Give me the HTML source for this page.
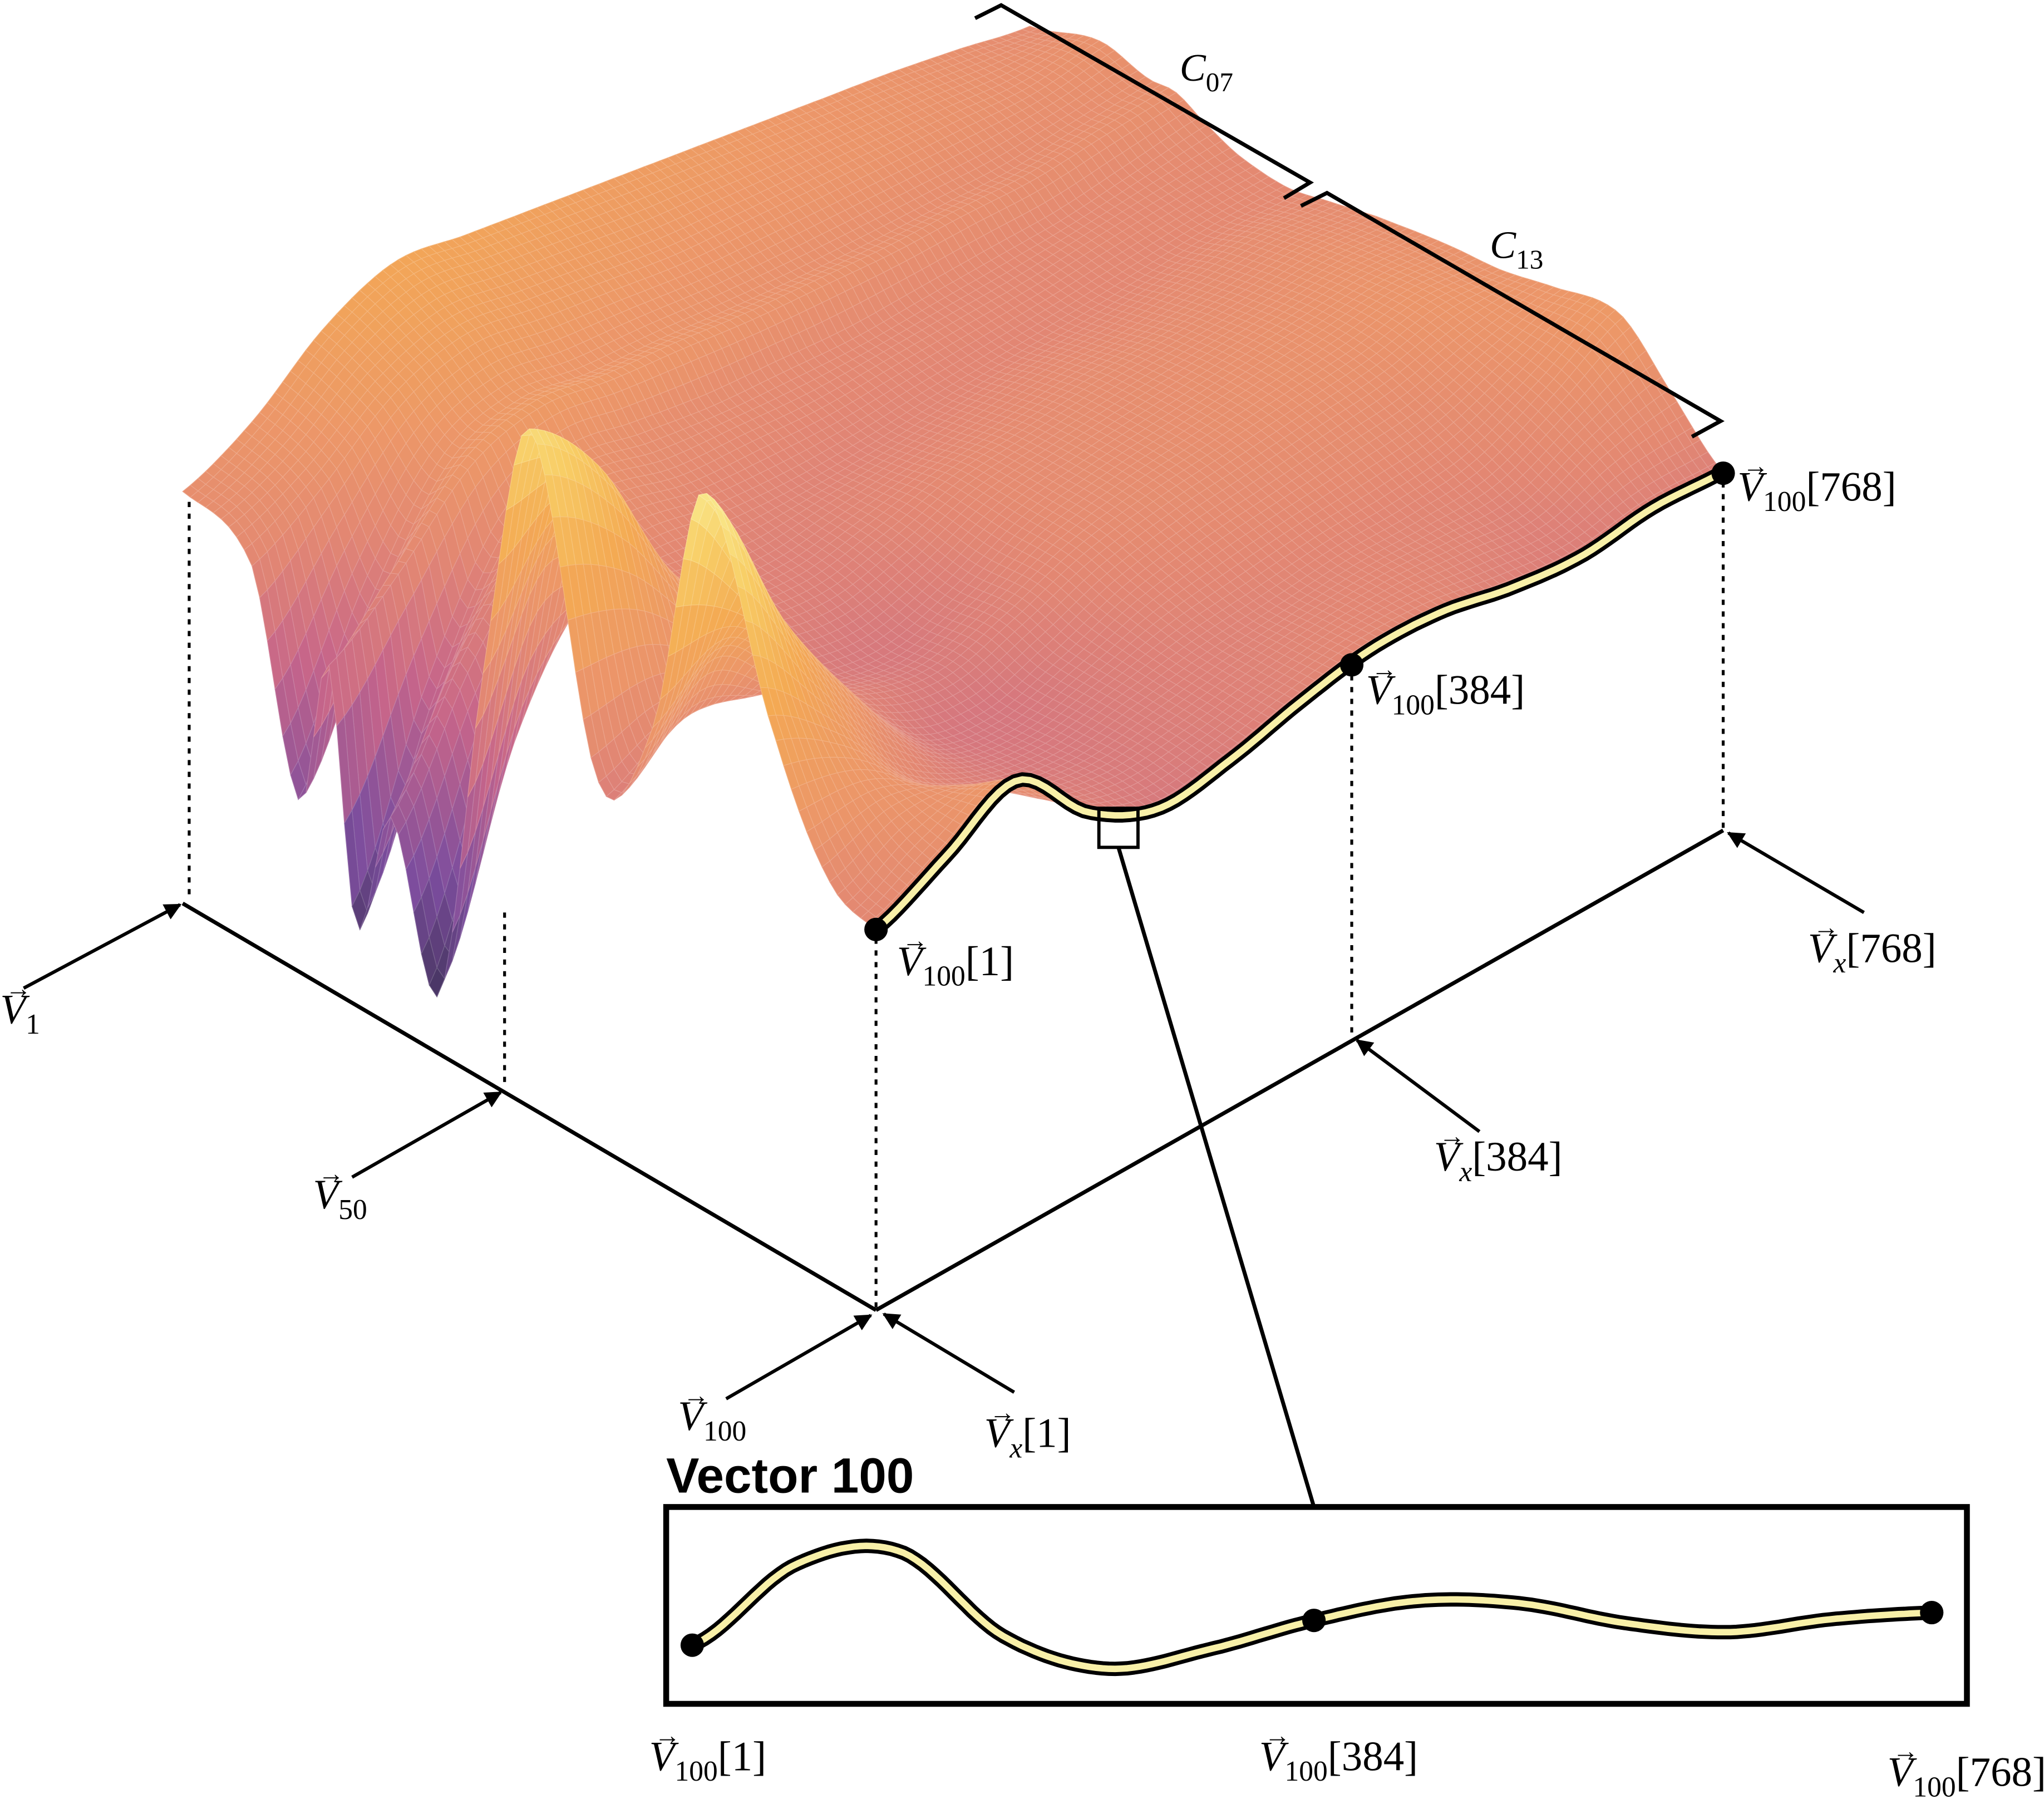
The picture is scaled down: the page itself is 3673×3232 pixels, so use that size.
<!DOCTYPE html>
<html><head><meta charset="utf-8"><style>
html,body{margin:0;padding:0;background:#fff}
svg{display:block}
text{font-family:"Liberation Serif",serif}
</style></head><body>
<svg id="fig" xmlns="http://www.w3.org/2000/svg" width="3673" height="3232" viewBox="0 0 1568 1380">
<defs>
<marker id="ah" viewBox="0 0 10 10" refX="9" refY="5" markerWidth="5" markerHeight="5" orient="auto"><path d="M0,0 L10,5 L0,10 z" fill="#000"/></marker>
</defs>
<g id="surface"></g>
<g id="overlay"></g>
</svg>
<script>
// row positions (vector index fraction) and column positions (dimension fraction)
const rowPos=[0,.1,.17,.21,.25,.3,.37,.43,.5,.6,.68,.75,.85,.93,1];
const colPos=[0,1/12,2/12,3/12,4/12,5/12,6/12,7/12,8/12,9/12,10/12,11/12,1];
const heights=[
[316,340,380,400,390,380,370,360,350,340,330,318,305],
[290,320,360,375,365,355,345,340,335,330,325,320,325],
[130,250,330,350,340,335,328,322,318,315,312,315,318],
[250,290,340,355,345,338,330,325,320,318,315,318,320],
[60,200,300,330,320,310,305,300,300,300,300,305,310],
[160,250,310,320,305,300,295,295,295,295,298,300,300],
[45,200,290,300,290,285,285,288,290,292,295,298,297],
[300,380,330,290,280,285,290,295,300,300,305,310,305],
[520,460,350,290,275,285,300,305,310,312,315,320,315],
[280,300,290,270,260,275,300,310,315,320,325,330,325],
[350,380,320,280,265,280,300,310,315,320,325,335,330],
[550,430,340,270,255,270,290,300,305,310,315,330,340],
[400,360,300,270,260,270,280,285,290,290,295,320,350],
[310,330,320,280,265,270,280,288,290,285,280,300,310],
[292,318,345,290,262,268,282,292,290,278,272,278,275]];
const vector100=[38,100,110,45,20,35,57,72,70,55,48,58,63];

const NS="http://www.w3.org/2000/svg";
function mk(tag,attrs,parent){const e=document.createElementNS(NS,tag);for(const k in attrs)e.setAttribute(k,attrs[k]);parent.appendChild(e);return e;}
function proj(s,t,h){return [140+532*s+650*t, 693+312*s-368*t-h];}
function cr(p0,p1,p2,p3,u){return 0.5*((2*p1)+(-p0+p2)*u+(2*p0-5*p1+4*p2-p3)*u*u+(-p0+3*p1-3*p2+p3)*u*u*u);}
function sampleArr(arr,pos,x){let k=0;while(k<pos.length-2&&x>pos[k+1])k++;const u=(x-pos[k])/(pos[k+1]-pos[k]);
 const a=arr[Math.max(k-1,0)],b=arr[k],c=arr[k+1],d=arr[Math.min(k+2,arr.length-1)];return cr(a,b,c,d,u);}
function H(s,t){const colVals=heights.map(r=>sampleArr(r,colPos,t));return sampleArr(colVals,rowPos,s);}
const stops=[[0,[42,24,72]],[.15,[106,53,144]],[.35,[190,80,122]],[.5,[222,118,96]],[.6,[233,136,84]],[.75,[242,158,60]],[.9,[247,198,80]],[1,[248,226,120]]];
function cmapRGB(h){let f=Math.max(0,Math.min(1,(h-40)/500));for(let k=0;k<stops.length-1;k++){if(f<=stops[k+1][0]){const u=(f-stops[k][0])/(stops[k+1][0]-stops[k][0]);const a=stops[k][1],b=stops[k+1][1];return a.map((v,i)=>Math.round(v+(b[i]-v)*u));}}return [248,226,120];}
function rgb(c,w){return `rgb(${c.map(v=>Math.round(v+(255-v)*w)).join(',')})`;}

const surf=document.getElementById('surface');
const NR=90,NC=110;
const grid=[];
for(let i=0;i<=NR;i++){const row=[];for(let j=0;j<=NC;j++){row.push(H(i/NR,j/NC));}grid.push(row);}
for(let i=0;i<NR;i++){
 for(let j=NC-1;j>=0;j--){
  const s0=i/NR,s1=(i+1)/NR,t0=j/NC,t1=(j+1)/NC;
  const p=[proj(s0,t0,grid[i][j]),proj(s0,t1,grid[i][j+1]),proj(s1,t1,grid[i+1][j+1]),proj(s1,t0,grid[i+1][j])];
  const h=(grid[i][j]+grid[i][j+1]+grid[i+1][j]+grid[i+1][j+1])/4;
  const c=cmapRGB(h);
  const q=mk('polygon',{points:p.map(v=>v[0].toFixed(1)+','+v[1].toFixed(1)).join(' '),fill:rgb(c,0.12),stroke:rgb(c,0.3),'stroke-width':0.5},surf);
  
  
 }
}
// front-edge (vector 100) curve on surface
const ov=document.getElementById('overlay');
let fp=[];for(let j=0;j<=NC;j++){const v=proj(1,j/NC,grid[NR][j]);fp.push(v[0].toFixed(1)+','+v[1].toFixed(1));}
let e=mk('polyline',{points:fp.join(' '),fill:'none',stroke:'#000','stroke-width':11,'stroke-linejoin':'round'},ov);

e=mk('polyline',{points:fp.join(' '),fill:'none',stroke:'#f8f0a8','stroke-width':5,'stroke-linejoin':'round'},ov);


function line(x1,y1,x2,y2,name,extra){const a={x1,y1,x2,y2,stroke:'#000','stroke-width':3};Object.assign(a,extra||{});const l=mk('line',a,ov);return l;}
line(140,693,672,1005,'vector-axis');
line(672,1005,1322,637,'dimension-axis');
const drops=[[145,385,145,690],[387,700,387,832],[672,720,672,1003],[1037,518,1037,795],[1322,370,1322,635],[531,1270,531,1302],[1017,1250,1017,1302],[1482,1245,1482,1302]];
drops.forEach(d=>line(d[0],d[1],d[2],d[3],'dotted-drop-line',{'stroke-width':2.2,'stroke-dasharray':'4,5'}));
const arrows=[[18,758,138,694],[270,903,384,838],[557,1073,668,1009],[778,1068,678,1008],[1135,868,1041,798],[1430,700,1326,639]];
arrows.forEach(a=>line(a[0],a[1],a[2],a[3],'arrow',{'stroke-width':2.6,'marker-end':'url(#ah)'}));
let b=mk('polyline',{points:'748,14 768,4 1005,140 985,152',fill:'none',stroke:'#000','stroke-width':3},ov);

b=mk('polyline',{points:'998,158 1018,148 1320,323 1298,335',fill:'none',stroke:'#000','stroke-width':3},ov);

let r=mk('rect',{x:843,y:620,width:30,height:30,fill:'none',stroke:'#000','stroke-width':2.5},ov);

line(858,650,1008,1156,'zoom-connector');
[[672,713],[1037,510],[1322,363]].forEach(p=>{const c=mk('circle',{cx:p[0],cy:p[1],r:9,fill:'#000'},ov);});
let box=mk('rect',{x:511,y:1156,width:998,height:151,fill:'#fff',stroke:'#000','stroke-width':4.5},ov);

let tt=mk('text',{x:511,y:1145,'font-size':38,'font-weight':'bold',style:'font-family:"Liberation Sans",sans-serif'},ov);
tt.textContent='Vector 100';
let ip=[];for(let k=0;k<=200;k++){const t=k/200;const v=sampleArr(vector100,colPos,t);ip.push((531+954*t).toFixed(1)+','+(1300-v).toFixed(1));}
e=mk('polyline',{points:ip.join(' '),fill:'none',stroke:'#000','stroke-width':11,'stroke-linejoin':'round'},ov);

e=mk('polyline',{points:ip.join(' '),fill:'none',stroke:'#f8f0a8','stroke-width':5,'stroke-linejoin':'round'},ov);

[0,0.5,1].forEach(t=>{const v=sampleArr(vector100,colPos,t);const c=mk('circle',{cx:531+954*t-(t==1?3:0),cy:1300-v,r:9,fill:'#000'},ov);});
function lab(x,y,sub,br,name){const g=mk('g',{},ov);
 const t=mk('text',{x:x,y:y,'font-size':32},g);
 const v=mk('tspan',{'font-style':'italic'},t);v.textContent='V';
 const s=mk('tspan',{dy:8,'font-size':22,'font-style':sub=='x'?'italic':'normal'},t);s.textContent=sub;
 if(br){const q=mk('tspan',{dy:-8},t);q.textContent=br;}
 const a=mk('text',{x:x+4,y:y-20,'font-size':20},g);a.textContent='→';}
lab(0,785,'1','','label-v1');
lab(240,927,'50','','label-v50');
lab(520,1097,'100','','label-v100');
lab(755,1110,'x','[1]','label-vx-1');
lab(1100,898,'x','[384]','label-vx-384');
lab(1387,738,'x','[768]','label-vx-768');
lab(688,748,'100','[1]','label-v100-1');
lab(1048,540,'100','[384]','label-v100-384');
lab(1333,384,'100','[768]','label-v100-768');
lab(498,1358,'100','[1]','inset-label-v100-1');
lab(966,1358,'100','[384]','inset-label-v100-384');
lab(1448,1370,'100','[768]','inset-label-v100-768');
function ct(x,y,sub,name){const t=mk('text',{x:x,y:y,'font-size':30},ov);
 const v=mk('tspan',{'font-style':'italic'},t);v.textContent='C';const s=mk('tspan',{dy:8,'font-size':21},t);s.textContent=sub;}
ct(905,62,'07','label-c07');
ct(1143,198,'13','label-c13');
</script>
</body></html>
